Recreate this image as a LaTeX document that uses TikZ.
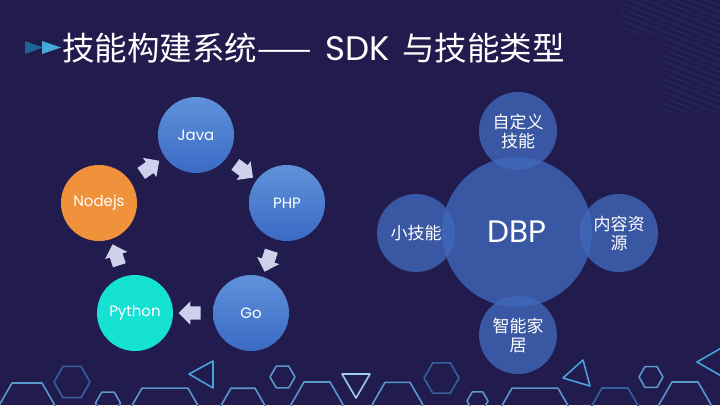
\documentclass[tikz,border=0pt]{standalone}
\usepackage{fontspec}
\setmainfont{Poppins}
\newfontfamily\cjk{Noto Sans CJK SC}
\usetikzlibrary{shapes.arrows}

\definecolor{bgnavy}{RGB}{33,28,77}
\definecolor{langtop}{RGB}{96,146,218}
\definecolor{langbot}{RGB}{58,106,196}
\definecolor{pyteal}{RGB}{22,226,212}
\definecolor{nodeorange}{RGB}{240,145,60}
\definecolor{flowlav}{RGB}{206,208,236}
\definecolor{dbpblue}{RGB}{64,104,188}
\definecolor{hexlight}{RGB}{92,150,206}
\definecolor{hexdark}{RGB}{52,96,160}
\definecolor{trilight}{RGB}{74,162,218}
\definecolor{triwhite}{RGB}{160,204,236}
\definecolor{chevdark}{RGB}{30,100,150}
\definecolor{chevlight}{RGB}{70,170,216}
\definecolor{hatchblue}{RGB}{62,78,150}

\begin{document}
\begin{tikzpicture}[x=1pt, y=-1pt, line cap=round, line join=round,
		lang/.style={circle, minimum size=76pt, inner sep=0pt, text=white,
			font=\fontsize{15}{18}\selectfont},
		bluelang/.style={lang, top color=langtop, bottom color=langbot},
		flow/.style={single arrow, fill=flowlav, inner xsep=0pt, inner ysep=6.5pt,
			minimum height=22pt, single arrow head extend=5pt,
			sloped, allow upside down},
		bubble/.style={circle, fill=dbpblue, fill opacity=0.78, text opacity=1,
			text=white, inner sep=0pt, align=center},
		skill/.style={bubble, minimum size=78pt,
			font=\cjk\fontsize{17}{19}\selectfont},
		hexl/.style={draw=hexlight, line width=1.6pt},
		hexd/.style={draw=hexdark, line width=1.6pt},
		tril/.style={draw=trilight, line width=1.6pt},
		triw/.style={draw=triwhite, line width=1.6pt}]

	% === NEN ===
	\fill[bgnavy] (0,0) rectangle (720,405);
	\useasboundingbox (0,0) rectangle (720,405);
	\begin{scope}
		\clip (622,0) -- (720,0) -- (720,112) -- (664,112) -- (664,34) -- (622,34) -- cycle;
		\foreach \k in {-60,-54,...,114} {
			\draw[hatchblue, opacity=0.3, line width=0.7pt] (600,\k) -- ++(140,56);
		}
	\end{scope}

	% === TIEU DE ===
	\fill[chevdark] (25,41) -- (43,47.5) -- (25,54) -- cycle;
	\fill[chevlight] (42,41) -- (61,47.5) -- (42,54) -- cycle;
	\node[anchor=base west, inner sep=0pt, text=white, font=\cjk\fontsize{32.5}{36}\selectfont]
		(title) at (62,60) {技能构建系统——\hspace{14pt}{\rmfamily\fontsize{34}{36}\selectfont SDK}\hspace{12pt}与技能类型};

	% === SDK: VONG NGON NGU ===
	\node[bluelang] (java) at (196,135) {Java};
	\node[bluelang] (php) at (287,203) {PHP};
	\node[bluelang] (go) at (251,313) {Go};
	\node[lang, fill=pyteal] (python) at (135,313) {Python};
	\node[lang, fill=nodeorange] (nodejs) at (99,203) {Nodejs};
	\path (java) -- node[flow] (f1) {} (php);
	\path (php) -- node[flow] (f2) {} (go);
	\path (go) -- node[flow] (f3) {} (python);
	\path (python) -- node[flow] (f4) {} (nodejs);
	\path (nodejs) -- node[flow] (f5) {} (java);

	% === LOAI KY NANG: DBP ===
	\node[bubble, minimum size=150pt, font=\fontsize{31}{36}\selectfont] (dbp) at (517,232) {DBP};
	\node[skill] (custom) at (518,131) {自定义\\技能};
	\node[skill] (mini) at (416,233) {小技能};
	\node[skill] (content) at (619,233) {内容资\\源};
	\node[skill] (home) at (518,335) {智能家\\居};

	% === TRANG TRI DUOI ===
	\begin{scope}
		\clip (0,0) rectangle (720,405);
		\foreach \cx/\cy/\r/\s in {27/409/30/hexl, 72/382/18/hexd, 108/403/12.5/hexl,
			165/428/46/hexl, 243/409/24/hexl, 282.5/377/12.5/hexl, 317/404.5/26/hexl,
			397.5/404/25/hexl, 441.5/378/17.5/hexd, 477.5/401/10.5/hexl,
			535/428/46/hexl, 615/410.5/26/hexd, 651/377/12/hexl, 685/404.5/26/hexl} {
			\draw[\s] (\cx,\cy) +(0:\r) -- +(60:\r) -- +(120:\r) -- +(180:\r)
				-- +(240:\r) -- +(300:\r) -- cycle;
		}
		\draw[tril] (189,374) -- (213,361) -- (213,388) -- cycle;
		\draw[triw] (342,374) -- (370,374) -- (356,398) -- cycle;
		\draw[tril] (583,360) -- (563,378) -- (590,386) -- cycle;
		\draw[tril] (730,343) -- (697,362) -- (730,381);
	\end{scope}
\end{tikzpicture}
\end{document}
